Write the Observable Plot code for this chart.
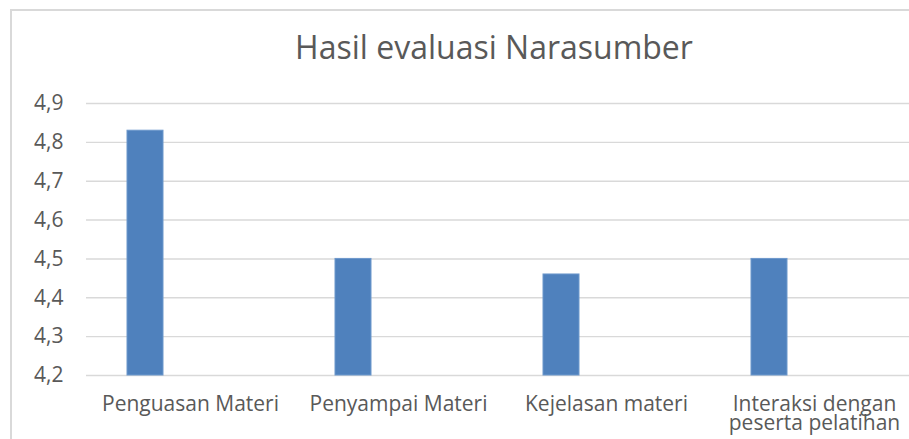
<!DOCTYPE html>
<html>
<head>
<meta charset="utf-8">
<script src="https://cdn.jsdelivr.net/npm/d3@7"></script>
<script src="https://cdn.jsdelivr.net/npm/@observablehq/plot@0.6"></script>
<style>
  html, body { margin: 0; padding: 0; background: #fff; overflow: hidden; width: 909px; height: 439px; }
  #wrap { position: relative; width: 909px; height: 439px; font-family: "Open Sans", sans-serif; }
  #frame { position: absolute; left: 10px; top: 9px; width: 2000px; height: 2000px;
           border-left: 2px solid #d9d9d9; border-top: 2px solid #d9d9d9; box-sizing: border-box; pointer-events: none; }
  #title { position: relative; padding-top: 31px; height: 31px; line-height: 31px; font-size: 32px;
           color: #595959; text-align: center; width: 988px; margin-left: 0; white-space: nowrap; }
  #chart { position: relative; }
</style>
</head>
<body>
<div id="wrap">
  <div id="frame"></div>
  <div id="title">Hasil evaluasi Narasumber</div>
  <div id="chart"></div>
</div>
<script>
const categories = ["Penguasan Materi", "Penyampai Materi", "Kejelasan materi", "Interaksi dengan peserta pelatihan"];
const values = [4.83, 4.5, 4.46, 4.5];
const yTicks = [4.2, 4.3, 4.4, 4.5, 4.6, 4.7, 4.8, 4.9];
const categoryLabels = ["Penguasan Materi", "Penyampai Materi", "Kejelasan materi", "Interaksi dengan\npeserta pelatihan"];

const yMin = 4.2, yMax = 4.9;
const data = categories.map((c, i) => ({category: c, value: values[i]}));
const labelOf = new Map(categories.map((c, i) => [c, categoryLabels[i]]));

const chart = Plot.plot({
  width: 909,
  height: 377,
  marginTop: 41,
  marginBottom: 64,
  marginLeft: 86,
  marginRight: 0,
  style: {fontFamily: "'Open Sans', sans-serif", color: "#595959", background: "transparent", overflow: "hidden"},
  x: {domain: categories, range: [85, 919], padding: 0, label: null},
  y: {domain: [yMin, yMax], label: null},
  marks: [
    Plot.gridY(yTicks, {stroke: "#d9d9d9", strokeOpacity: 1, strokeWidth: 1.4}),
    Plot.barY(data, {
      x: "category", y1: () => yMin, y2: "value",
      insetLeft: 41, insetRight: 131,
      fill: "#4f81bd", stroke: "#6d98cc", strokeWidth: 1
    }),
    Plot.axisY({ticks: yTicks, tickSize: 0, tickPadding: 23, fontSize: 21, fill: "#595959",
      tickFormat: d => d.toFixed(1).replace(".", ","), label: null}),
    Plot.axisX({tickSize: 0, tickPadding: 22, fontSize: 21, fill: "#595959", lineHeight: 0.9,
      tickFormat: d => labelOf.get(d), label: null})
  ]
});
document.getElementById("chart").appendChild(chart);
</script>
</body>
</html>
